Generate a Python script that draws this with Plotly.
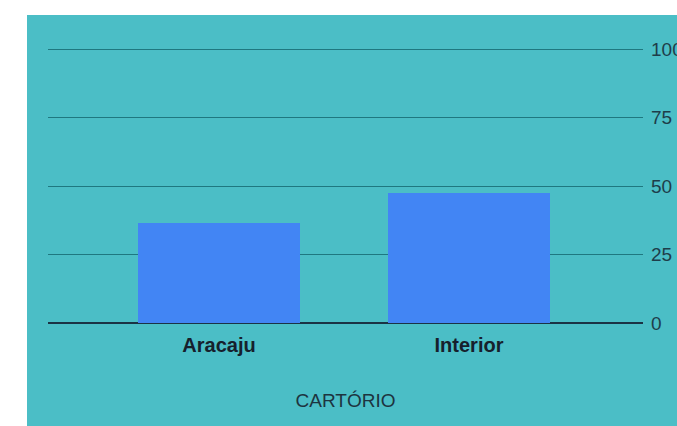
import plotly.graph_objects as go

categories = ["Aracaju", "Interior"]
values = [36.5, 47.5]
y_ticks = [0, 25, 50, 75, 100]

teal = "#4bbec6"
W, H = 677, 426
L, R, T, B = 48, 677 - 643, 48, 426 - 323
pw, ph = W - L - R, H - T - B

fig = go.Figure()
fig.add_trace(go.Bar(x=categories, y=values, marker=dict(color="#4285f4", line=dict(width=0)),
                     width=0.648, hoverinfo="skip"))

fig.add_shape(type="rect", xref="paper", yref="paper", layer="below",
              x0=(27 - L) / pw, x1=(W - L) / pw + 0.02,
              y0=-(B + 2) / ph, y1=1 + (T - 15) / ph,
              fillcolor=teal, line=dict(width=0))

fig.update_layout(
    width=W, height=H,
    margin=dict(l=L, r=R, t=T, b=B, autoexpand=False),
    paper_bgcolor="white",
    plot_bgcolor="rgba(0,0,0,0)",
    showlegend=False,
    font=dict(family="Liberation Sans, Arial, sans-serif"),
    xaxis=dict(
        range=[-0.684, 1.696],
        automargin=False,
        showgrid=False, zeroline=False, showline=False, ticks="",
        tickfont=dict(size=20, color="#16202c", family="Liberation Sans, Arial, sans-serif", weight="bold"),
        ticklabelstandoff=8,
        title=dict(text="CARTÓRIO", font=dict(size=19, color="#1d3440"), standoff=38),
    ),
    yaxis=dict(
        range=[0, 100.4], side="right",
        automargin=False,
        tickvals=y_ticks, ticktext=[str(v) for v in y_ticks],
        showgrid=True, gridcolor="#1f7880", gridwidth=1,
        zeroline=True, zerolinecolor="#1b3344", zerolinewidth=2,
        showline=False, ticks="",
        tickfont=dict(size=19, color="#1e3d4a"),
        ticklabelstandoff=7,
    ),
)

fig.write_html(
    "out.html",
    config={"displayModeBar": False},
    post_script="document.body.style.margin='0';document.body.style.overflow='hidden';",
)
